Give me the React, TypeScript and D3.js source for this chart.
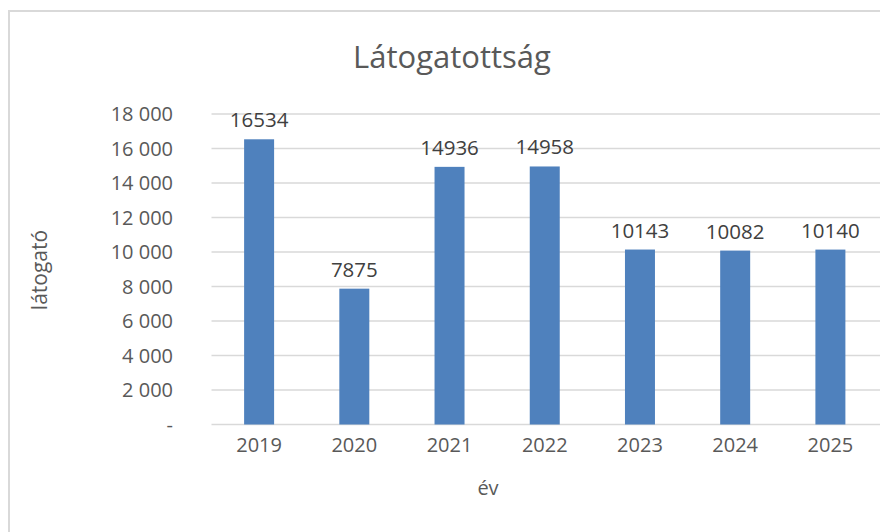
import * as d3 from 'd3';

const years = ['2019', '2020', '2021', '2022', '2023', '2024', '2025'];
const visitors = [16534, 7875, 14936, 14958, 10143, 10082, 10140];
const yTicks = [0, 2000, 4000, 6000, 8000, 10000, 12000, 14000, 16000, 18000];

const width = 880;
const height = 532;
const margin = { top: 114, right: 2, bottom: 107, left: 211.5 };
const font = '"Open Sans", "Noto Sans", sans-serif';

const fmt = (v: number) => (v === 0 ? '-' : d3.format(',')(v).replace(/,/g, ' '));

export default function App() {
  const x = d3
    .scaleBand()
    .domain(years)
    .range([margin.left, 878])
    .paddingInner(0.685)
    .paddingOuter(0.3425);

  const y = d3
    .scaleLinear()
    .domain([0, 18000])
    .range([height - margin.bottom - 0.5, margin.top]);

  return (
    <svg
      width={width}
      height={height}
      style={{ position: 'absolute', left: 0, top: 0, background: '#fff' }}
    >
      <rect x={9} y={11} width={width} height={height} fill="#fff" stroke="#d9d9d9" strokeWidth={2} />

      <text x={452} y={68} textAnchor="middle" fontFamily={font} fontSize={31} fill="#595959">
        Látogatottság
      </text>

      {/* gridlines */}
      {yTicks.map((t) => (
        <line
          key={t}
          x1={margin.left}
          x2={880}
          y1={y(t)}
          y2={y(t)}
          stroke="#d9d9d9"
          strokeWidth={1.5}
        />
      ))}

      {/* y tick labels */}
      {yTicks.map((t) => (
        <text
          key={t}
          x={173}
          y={y(t)}
          dy="0.36em"
          textAnchor="end"
          fontFamily={font}
          fontSize={20}
          fill="#595959"
        >
          {fmt(t)}
        </text>
      ))}

      {/* bars */}
      {visitors.map((v, i) => (
        <rect
          key={years[i]}
          x={x(years[i])}
          y={y(v)}
          width={x.bandwidth()}
          height={y(0) - y(v)}
          fill="#4f81bd"
        />
      ))}

      {/* data labels */}
      {visitors.map((v, i) => (
        <text
          key={years[i]}
          x={(x(years[i]) || 0) + x.bandwidth() / 2}
          y={y(v) - 12}
          textAnchor="middle"
          fontFamily={font}
          fontSize={20.5}
          fill="#404040"
        >
          {v}
        </text>
      ))}

      {/* x tick labels */}
      {years.map((yr) => (
        <text
          key={yr}
          x={(x(yr) || 0) + x.bandwidth() / 2}
          y={452}
          textAnchor="middle"
          fontFamily={font}
          fontSize={20}
          fill="#595959"
        >
          {yr}
        </text>
      ))}

      <text x={488} y={495} textAnchor="middle" fontFamily={font} fontSize={20} fill="#595959">
        év
      </text>
      <text
        transform="translate(47,270) rotate(-90)"
        textAnchor="middle"
        fontFamily={font}
        fontSize={21}
        fill="#595959"
      >
        látogató
      </text>
    </svg>
  );
}
